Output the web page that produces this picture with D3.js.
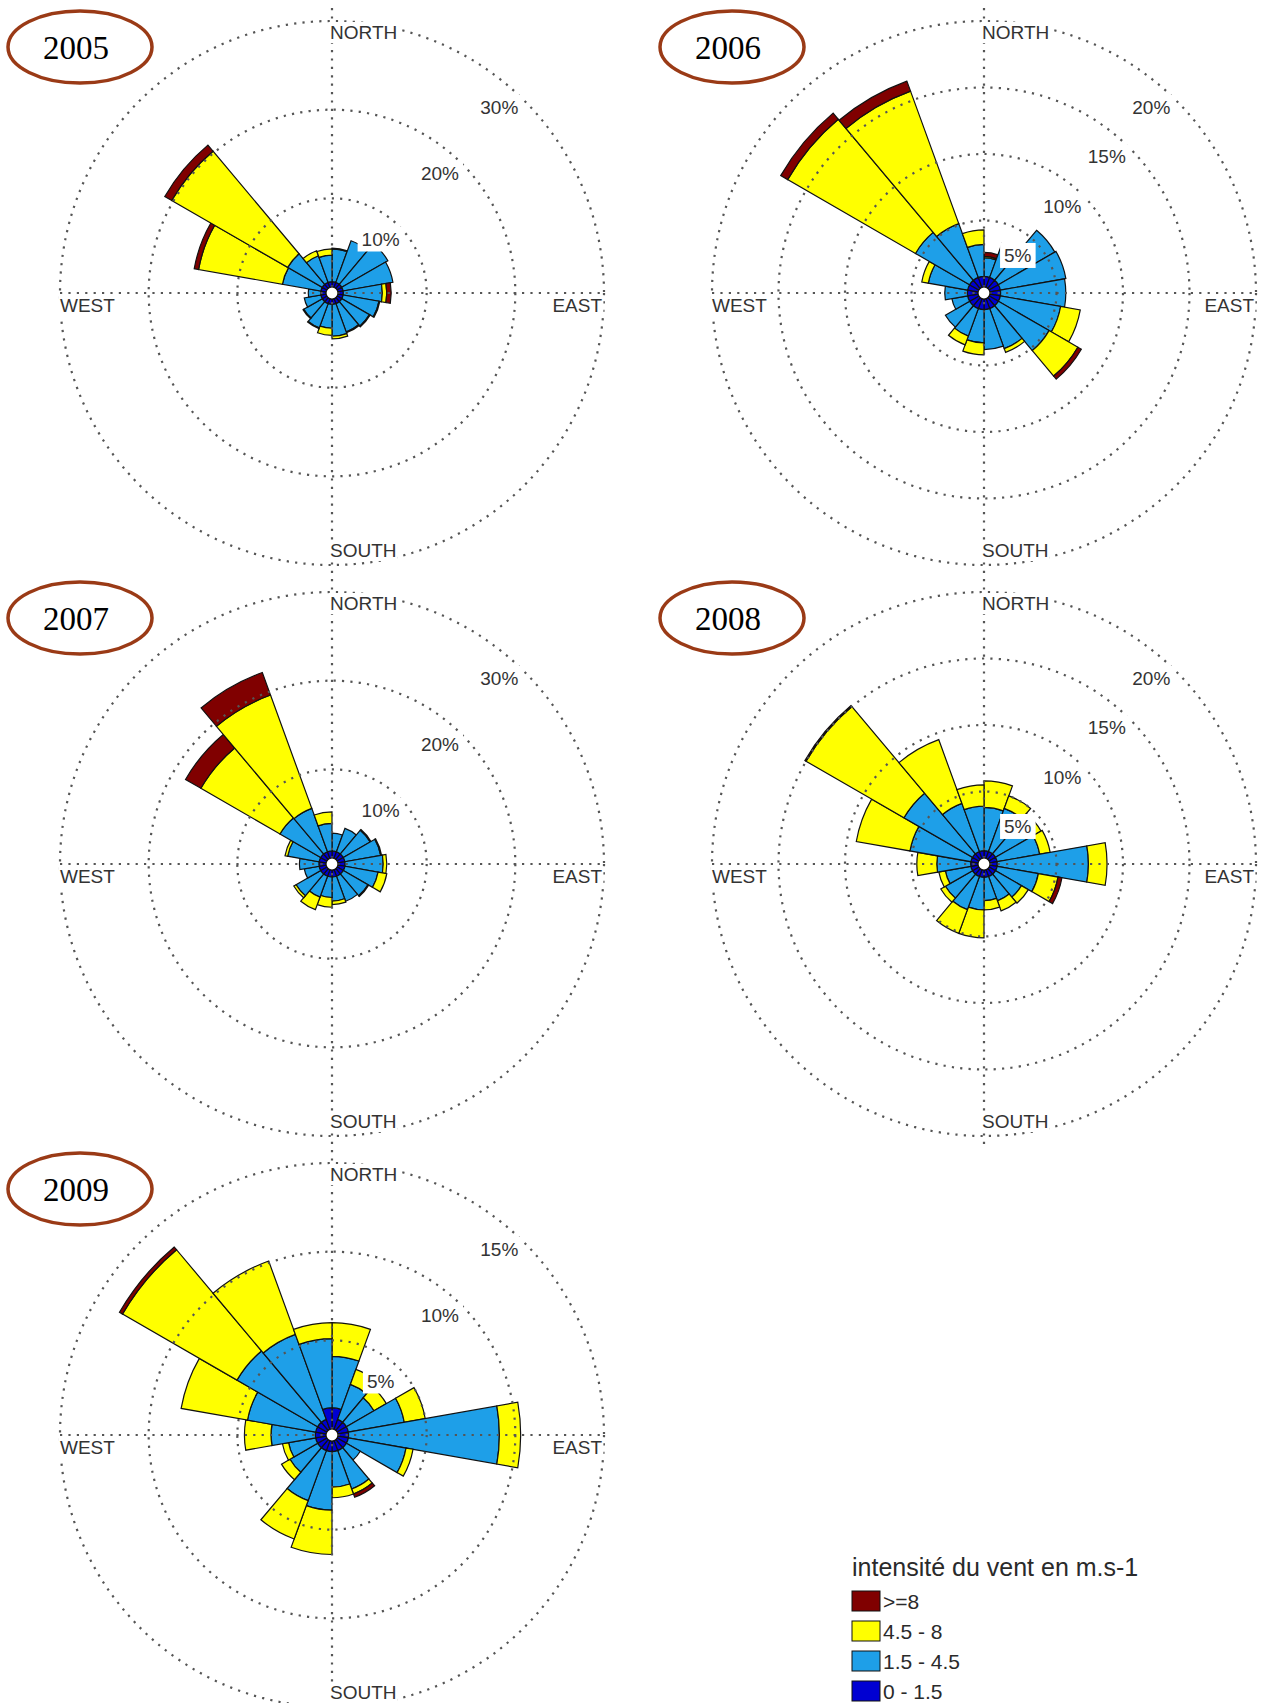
<!DOCTYPE html>
<html>
<head>
<meta charset="utf-8">
<script src="https://cdn.jsdelivr.net/npm/d3@7"></script>
<style>
  body { margin: 0; background: #fff; }
  svg { display: block; }
</style>
</head>
<body>
<div id="chart"></div>
<script>
// speed classes (m/s), calm first
const classes = ["0 - 1.5", "1.5 - 4.5", "4.5 - 8", ">=8"];
const classColors = ["#0000d2", "#1e9fe8", "#ffff00", "#800000"];

// 18 sectors of 20 degrees, clockwise from north
const sectorStarts = d3.range(0, 360, 20);

// frequency (%) per sector: [0-1.5, 1.5-4.5, 4.5-8, >=8]
const rose2005 = [
  [0.6, 3.7, 0.1, 0], [0.6, 5.0, 0, 0], [0.6, 6.0, 0, 0], [0.6, 5.7, 0, 0],
  [0.6, 4.4, 0.5, 0.5], [0.6, 4.1, 0.1, 0], [0.6, 3.6, 0.1, 0], [0.6, 3.4, 0.1, 0],
  [0.6, 3.6, 0.3, 0], [0.6, 2.7, 0.8, 0], [0.6, 2.9, 0.1, 0], [0.6, 2.4, 0.1, 0],
  [0.6, 1.9, 0, 0], [0.6, 1.4, 0, 0], [0.6, 4.4, 9.6, 0.5], [0.6, 4.5, 15.1, 0.9],
  [0.6, 3.2, 0.6, 0], [0.6, 3.0, 0.7, 0]
];
const rose2006 = [
  [0.8, 1.4, 0.1, 0.3], [0.8, 2.7, 0, 0], [0.8, 4.9, 0, 0], [0.8, 5.0, 0, 0],
  [0.8, 4.9, 0, 0], [0.8, 4.6, 1.5, 0], [0.8, 4.4, 2.5, 0.3], [0.8, 3.2, 0.3, 0],
  [0.8, 3.0, 0, 0], [0.8, 2.5, 0.9, 0], [0.8, 2.2, 0.7, 0], [0.8, 2.1, 0, 0],
  [0.8, 1.2, 0, 0], [0.8, 1.7, 0, 0], [0.8, 3.0, 0.5, 0], [0.8, 4.7, 11.1, 0.6],
  [0.8, 4.3, 10.6, 0.8], [0.8, 2.4, 1.1, 0]
];
const rose2007 = [
  [0.8, 2.0, 0, 0], [0.8, 2.8, 0, 0], [0.8, 3.5, 0.1, 0], [0.8, 4.1, 0.1, 0],
  [0.8, 4.3, 0.4, 0], [0.8, 3.8, 1.0, 0], [0.8, 3.2, 0.1, 0], [0.8, 3.0, 0, 0],
  [0.8, 2.7, 0.4, 0], [0.8, 2.3, 1.1, 0], [0.8, 2.5, 1.5, 0], [0.8, 3.2, 0.3, 0],
  [0.8, 1.7, 0, 0], [0.8, 2.2, 0, 0], [0.8, 3.6, 0.3, 0], [0.8, 5.3, 10.3, 2.0],
  [0.8, 5.2, 13.6, 2.7], [0.8, 3.1, 1.3, 0]
];
const rose2008 = [
  [0.55, 3.25, 2.0, 0], [0.55, 3.45, 1.0, 0], [0.55, 2.95, 1.0, 0], [0.55, 3.25, 0.8, 0],
  [0.55, 6.85, 1.4, 0], [0.55, 3.15, 1.5, 0.3], [0.55, 2.25, 0.6, 0], [0.55, 1.95, 0.8, 0],
  [0.55, 1.75, 0.7, 0], [0.55, 2.45, 2.1, 0], [0.55, 2.65, 1.9, 0], [0.55, 2.35, 0.4, 0],
  [0.55, 1.95, 0.5, 0], [0.55, 2.55, 1.5, 0], [0.55, 4.65, 4.1, 0], [0.55, 5.95, 8.5, 0.1],
  [0.55, 3.85, 5.1, 0], [0.55, 3.35, 1.6, 0]
];
const rose2009 = [
  [1.2, 2.9, 1.9, 0], [0.6, 2.1, 0.9, 0], [0.6, 1.8, 0.8, 0], [0.6, 3.2, 1.2, 0],
  [0.6, 8.5, 1.2, 0], [0.6, 3.3, 0.4, 0], [0.6, 0.9, 0, 0], [0.6, 2.3, 0.3, 0.2],
  [0.6, 2.0, 0.6, 0], [0.6, 3.3, 2.5, 0], [0.6, 3.0, 2.3, 0], [0.6, 1.8, 0.55, 0],
  [0.6, 1.55, 0.35, 0], [0.6, 2.5, 1.5, 0], [0.6, 3.9, 3.8, 0], [0.6, 5.25, 7.45, 0.2],
  [0.6, 5.1, 4.4, 0], [1.2, 3.9, 0.9, 0]
];

const years = ["2005", "2006", "2007", "2008", "2009"];
const roses = [rose2005, rose2006, rose2007, rose2008, rose2009];
// radial tick labels (%) for each year, last one is the outer circle
const ringTicks = [[10, 20, 30], [5, 10, 15, 20], [10, 20, 30], [5, 10, 15, 20], [5, 10, 15]];
const compass = ["NORTH", "SOUTH", "WEST", "EAST"];
const legendTitle = "intensité du vent en m.s-1";

// layout
const width = 1269;
const height = 1703;
const centers = [[332, 293], [984, 293], [332, 864], [984, 864], [332, 1435]];
const outerRadius = 272;
const hole = 6;
const labelFont = "'Liberation Sans', Arial, sans-serif";

const svg = d3.select("#chart")
  .append("svg")
  .attr("width", width)
  .attr("height", height)
  .attr("viewBox", [0, 0, width, height]);

svg.append("rect").attr("width", width).attr("height", height).attr("fill", "#fff");

const toRad = (deg) => (deg * Math.PI) / 180;
const arc = d3.arc();

function addBox(g, textSel, padX, padY) {
  const b = textSel.node().getBBox();
  g.insert("rect", () => textSel.node())
    .attr("x", b.x - padX)
    .attr("y", b.y - padY)
    .attr("width", b.width + 2 * padX)
    .attr("height", b.height + 2 * padY)
    .attr("fill", "#fff");
}

function drawRose(i) {
  const [cx, cy] = centers[i];
  const data = roses[i];
  const ticks = ringTicks[i];
  const maxVal = ticks[ticks.length - 1];

  const r = d3.scaleLinear().domain([0, maxVal]).range([hole, outerRadius]);

  const g = svg.append("g").attr("transform", `translate(${cx},${cy})`);

  // stacked bars
  const bars = [];
  data.forEach((row, s) => {
    let cum = 0;
    row.forEach((v, c) => {
      if (v > 0) {
        bars.push({ s, c, r0: cum, r1: cum + v });
      }
      cum += v;
    });
  });

  g.append("g")
    .selectAll("path")
    .data(bars)
    .join("path")
    .attr("d", (d) => arc({
      innerRadius: r(d.r0),
      outerRadius: r(d.r1),
      startAngle: toRad(sectorStarts[d.s]),
      endAngle: toRad(sectorStarts[d.s] + 20)
    }))
    .attr("fill", (d) => classColors[d.c])
    .attr("stroke", "#111")
    .attr("stroke-width", 1.2)
    .attr("stroke-linejoin", "miter");

  // dotted grid on top
  const grid = g.append("g")
    .attr("fill", "none")
    .attr("stroke", "#555")
    .attr("stroke-width", 2.2)
    .attr("stroke-dasharray", "2.2 6.2");

  grid.selectAll("circle")
    .data(ticks)
    .join("circle")
    .attr("r", (d) => r(d));

  grid.append("line").attr("x1", 0).attr("x2", 0).attr("y1", -285).attr("y2", 285);
  grid.append("line").attr("x1", -outerRadius).attr("x2", outerRadius).attr("y1", 0).attr("y2", 0);

  // center hole
  g.append("circle")
    .attr("r", hole)
    .attr("fill", "#fff")
    .attr("stroke", "#111")
    .attr("stroke-width", 1.2);

  // radial labels
  ticks.forEach((t) => {
    const [lx, ly] = d3.pointRadial(toRad(42), r(t) - 22);
    const lg = g.append("g");
    const txt = lg.append("text")
      .attr("x", lx)
      .attr("y", ly)
      .attr("text-anchor", "middle")
      .attr("dominant-baseline", "central")
      .attr("font-family", labelFont)
      .attr("font-size", 19)
      .attr("fill", "#333")
      .text(`${t}%`);
    addBox(lg, txt, 4, 2);
  });

  // compass labels
  const compassPos = [
    { x: -2, y: -254, anchor: "start" },
    { x: -2, y: 264, anchor: "start" },
    { x: -272, y: 19, anchor: "start" },
    { x: 270, y: 19, anchor: "end" }
  ];
  compass.forEach((name, k) => {
    const p = compassPos[k];
    const cg = g.append("g");
    const txt = cg.append("text")
      .attr("x", p.x)
      .attr("y", p.y)
      .attr("text-anchor", p.anchor)
      .attr("font-family", labelFont)
      .attr("font-size", 19)
      .attr("fill", "#333")
      .text(name);
    addBox(cg, txt, 1, 0);
  });

  // year badge
  g.append("ellipse")
    .attr("cx", -252)
    .attr("cy", -246)
    .attr("rx", 72)
    .attr("ry", 36)
    .attr("fill", "#fff")
    .attr("stroke", "#9a3a16")
    .attr("stroke-width", 3.5);
  g.append("text")
    .attr("x", -256)
    .attr("y", -234)
    .attr("text-anchor", "middle")
    .attr("font-family", "'Liberation Serif', 'Times New Roman', serif")
    .attr("font-size", 33)
    .attr("fill", "#000")
    .text(years[i]);
}

years.forEach((y, i) => drawRose(i));

// legend
const legend = svg.append("g").attr("transform", "translate(852,1576)");
legend.append("text")
  .attr("x", 0)
  .attr("y", 0)
  .attr("font-family", labelFont)
  .attr("font-size", 25)
  .attr("fill", "#2a2a2a")
  .text(legendTitle);

const legendItems = d3.range(classes.length).reverse();
legend.selectAll("g.item")
  .data(legendItems)
  .join("g")
  .attr("class", "item")
  .attr("transform", (d, k) => `translate(0,${15 + k * 30})`)
  .call((item) => item.append("rect")
    .attr("width", 28)
    .attr("height", 20)
    .attr("fill", (d) => classColors[d])
    .attr("stroke", "#111")
    .attr("stroke-width", 1))
  .call((item) => item.append("text")
    .attr("x", 31)
    .attr("y", 18)
    .attr("font-family", labelFont)
    .attr("font-size", 21)
    .attr("fill", "#2a2a2a")
    .text((d) => classes[d]));
</script>
</body>
</html>
